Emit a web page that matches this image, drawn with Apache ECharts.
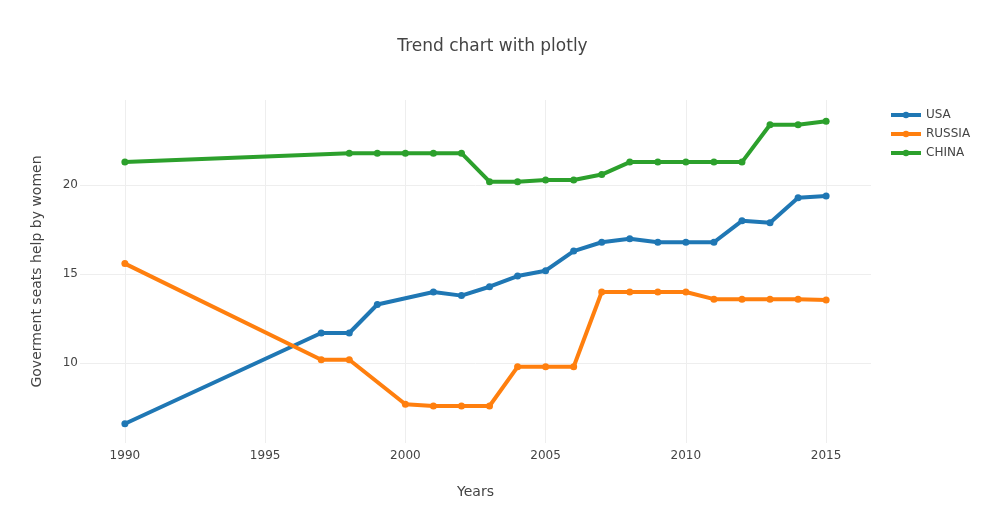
<!DOCTYPE html>
<html lang="en">
<head>
    <meta charset="UTF-8">
    <title>Trend chart with plotly</title>
    <script src="https://cdn.jsdelivr.net/npm/echarts@6/dist/echarts.min.js"></script>
    <style>
        html, body { margin: 0; padding: 0; background: #fff; }
        #main { width: 985px; height: 525px; }
    </style>
</head>
<body>
<div id="main"></div>
<script type="text/javascript">
    // years with at least one value; null = no point for that country
    var years = [1990, 1997, 1998, 1999, 2000, 2001, 2002, 2003, 2004, 2005,
                 2006, 2007, 2008, 2009, 2010, 2011, 2012, 2013, 2014, 2015];
    var usa = [6.6, 11.7, 11.7, 13.3, null, 14.0, 13.8, 14.3, 14.9, 15.2,
               16.3, 16.8, 17.0, 16.8, 16.8, 16.8, 18.0, 17.9, 19.3, 19.4];
    var russia = [15.6, 10.2, 10.2, null, 7.7, 7.6, 7.6, 7.6, 9.8, 9.8,
                  9.8, 14.0, 14.0, 14.0, 14.0, 13.6, 13.6, 13.6, 13.6, 13.55];
    var china = [21.3, null, 21.8, 21.8, 21.8, 21.8, 21.8, 20.2, 20.2, 20.3,
                 20.3, 20.6, 21.3, 21.3, 21.3, 21.3, 21.3, 23.4, 23.4, 23.6];
    var names = ['USA', 'RUSSIA', 'CHINA'];
    var colors = ['#1f77b4', '#ff7f0e', '#2ca02c'];

    function pairs(vals) {
        var out = [];
        for (var i = 0; i < years.length; i++) {
            if (vals[i] != null) out.push([years[i], vals[i]]);
        }
        return out;
    }

    // verdana look-alike
    var font = '"DejaVu Sans", verdana, sans-serif';
    var myChart = echarts.init(document.getElementById('main'));

    var series = [usa, russia, china].map(function (vals, i) {
        return {
            name: names[i],
            type: 'line',
            data: pairs(vals),
            symbol: 'circle',
            symbolSize: 7,
            showAllSymbol: true,
            lineStyle: { width: 4, color: colors[i] },
            itemStyle: { color: colors[i] },
            animation: false
        };
    });

    myChart.setOption({
        backgroundColor: '#fff',
        textStyle: { fontFamily: font, color: '#444' },
        title: {
            text: 'Trend chart with plotly',
            left: 'center',
            top: 33,
            textStyle: { fontFamily: font, fontSize: 17, fontWeight: 'normal', color: '#444' }
        },
        legend: {
            orient: 'vertical',
            left: 884,
            top: 104,
            itemWidth: 30,
            itemHeight: 8,
            itemGap: 7,
            data: names,
            lineStyle: { width: 4 },
            textStyle: { fontFamily: font, fontSize: 12, color: '#444' }
        },
        grid: { left: 80, right: 114, top: 100, bottom: 82 },
        xAxis: {
            type: 'value',
            min: 1988.4,
            max: 2016.6,
            splitNumber: 5,
            name: 'Years',
            nameLocation: 'middle',
            nameGap: 42,
            nameTextStyle: { fontFamily: font, fontSize: 14, color: '#444' },
            axisLine: { show: false },
            axisTick: { show: false },
            axisLabel: {
                margin: 7,
                fontSize: 12,
                color: '#444',
                fontFamily: font,
                showMinLabel: false,
                showMaxLabel: false,
                formatter: function (v) { return v % 5 === 0 ? String(v) : ''; }
            },
            splitLine: { show: true, showMinLine: false, showMaxLine: false, lineStyle: { color: '#eeeeee', width: 1 } }
        },
        yAxis: {
            type: 'value',
            min: 5.52,
            max: 24.79,
            splitNumber: 4,
            name: 'Goverment seats help by women',
            nameLocation: 'middle',
            nameGap: 36,
            nameTextStyle: { fontFamily: font, fontSize: 14, color: '#444' },
            axisLine: { show: false },
            axisTick: { show: false },
            axisLabel: {
                margin: 2,
                fontSize: 12,
                color: '#444',
                fontFamily: font,
                showMinLabel: false,
                showMaxLabel: false,
                formatter: function (v) { return v % 5 === 0 ? String(v) : ''; }
            },
            splitLine: { show: true, showMinLine: false, showMaxLine: false, lineStyle: { color: '#eeeeee', width: 1 } }
        },
        series: series
    });
</script>
</body>
</html>
